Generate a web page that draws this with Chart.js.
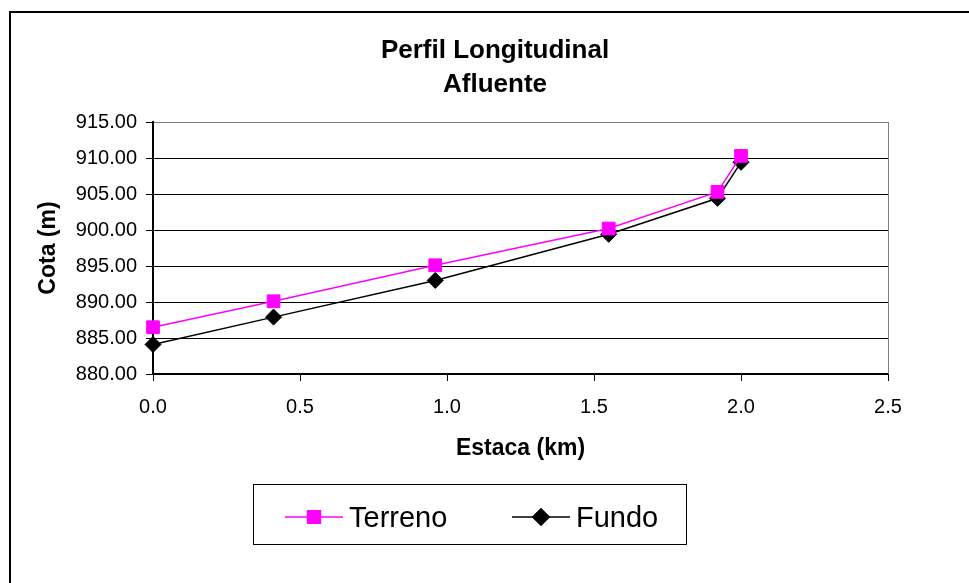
<!DOCTYPE html>
<html lang="pt">
<head>
    <meta charset="UTF-8">
    <title>Perfil Longitudinal - Afluente</title>
    <script src="https://cdn.jsdelivr.net/npm/chart.js"></script>
    <style>
        body { margin: 0; background: #fff; }
        canvas { display: block; }
    </style>
</head>
<body>
    <canvas id="perfilChart" width="969" height="583"></canvas>

    <script>
        // dados
        const estacas = [0.0, 0.41, 0.96, 1.55, 1.92, 2.00];
        const terreno = [886.5, 890.1, 895.1, 900.2, 905.3, 910.3];
        const fundo = [884.1, 887.9, 893.0, 899.4, 904.4, 909.4];
        const tituloLinhas = ['Perfil Longitudinal', 'Afluente'];
        const seriesNomes = ['Terreno', 'Fundo'];

        const FONTE = '"Liberation Sans", Arial, sans-serif';
        Chart.defaults.color = '#000';
        Chart.defaults.font.family = FONTE;

        function pontos(ys) {
            return estacas.map((x, i) => ({ x: x, y: ys[i] }));
        }

        // moldura, titulo e legenda no estilo Excel
        const molduraPlugin = {
            id: 'moldura',
            beforeDraw(chart) {
                const ctx = chart.ctx;
                ctx.save();
                ctx.fillStyle = '#fff';
                ctx.fillRect(0, 0, chart.width, chart.height);
                ctx.restore();
            },
            afterDraw(chart) {
                const ctx = chart.ctx;
                const area = chart.chartArea;
                ctx.save();

                // borda externa
                ctx.strokeStyle = '#000';
                ctx.lineWidth = 2;
                ctx.strokeRect(10, 12, 1000, 700);

                // borda direita da area de plotagem
                ctx.strokeStyle = '#808080';
                ctx.lineWidth = 1;
                ctx.beginPath();
                ctx.moveTo(area.right + 0.5, area.top);
                ctx.lineTo(area.right + 0.5, area.bottom);
                ctx.stroke();

                // titulo
                ctx.fillStyle = '#000';
                ctx.font = 'bold 26px ' + FONTE;
                ctx.textAlign = 'center';
                ctx.textBaseline = 'middle';
                tituloLinhas.forEach((t, i) => ctx.fillText(t, 495, 51 + i * 34));

                // legenda
                ctx.lineWidth = 1;
                ctx.strokeStyle = '#000';
                ctx.strokeRect(253.5, 484.5, 433, 60);
                const yLeg = 517;
                const xs = [285, 512];
                ctx.font = '29px ' + FONTE;
                ctx.textAlign = 'left';
                chart.data.datasets.forEach((ds, i) => {
                    const x0 = xs[i];
                    ctx.strokeStyle = ds.borderColor;
                    ctx.lineWidth = 1.5;
                    ctx.beginPath();
                    ctx.moveTo(x0, yLeg);
                    ctx.lineTo(x0 + 58, yLeg);
                    ctx.stroke();
                    Chart.helpers.drawPoint(ctx, {
                        pointStyle: ds.pointStyle,
                        radius: ds.pointRadius,
                        borderWidth: 1
                    }, x0 + 29, yLeg);
                    ctx.fillStyle = ds.pointBackgroundColor;
                    ctx.strokeStyle = ds.pointBorderColor;
                    ctx.fill();
                    ctx.stroke();
                    ctx.fillStyle = '#000';
                    ctx.fillText(ds.label, x0 + 64, yLeg + 2);
                });

                ctx.restore();
            }
        };

        const ctx = document.getElementById('perfilChart').getContext('2d');
        const perfilChart = new Chart(ctx, {
            type: 'line',
            data: {
                datasets: [{
                    label: seriesNomes[0],
                    data: pontos(terreno),
                    borderColor: '#ff00ff',
                    borderWidth: 1.5,
                    pointStyle: 'rect',
                    pointRadius: 9,
                    pointBackgroundColor: '#ff00ff',
                    pointBorderColor: '#ff00ff',
                    pointBorderWidth: 1,
                    tension: 0,
                    clip: false
                }, {
                    label: seriesNomes[1],
                    data: pontos(fundo),
                    borderColor: '#000',
                    borderWidth: 1.5,
                    pointStyle: 'rectRot',
                    pointRadius: 8,
                    pointBackgroundColor: '#000',
                    pointBorderColor: '#000',
                    pointBorderWidth: 1,
                    tension: 0,
                    clip: false
                }]
            },
            options: {
                responsive: false,
                animation: false,
                layout: {
                    padding: { top: 122, right: 81, bottom: 120, left: 0 }
                },
                plugins: {
                    legend: { display: false },
                    title: { display: false },
                    tooltip: { enabled: false }
                },
                scales: {
                    x: {
                        type: 'linear',
                        min: 0,
                        max: 2.5,
                        afterFit: (scale) => { scale.height = 89; },
                        ticks: {
                            stepSize: 0.5,
                            padding: 14,
                            font: { size: 20 },
                            callback: (v) => v.toFixed(1)
                        },
                        grid: {
                            drawOnChartArea: false,
                            drawTicks: true,
                            tickLength: 7,
                            tickColor: '#000'
                        },
                        border: { color: '#000', width: 2 },
                        title: {
                            display: true,
                            text: 'Estaca (km)',
                            font: { size: 23, weight: 'bold' },
                            padding: { top: 0, bottom: 1 }
                        }
                    },
                    y: {
                        min: 880,
                        max: 915,
                        afterFit: (scale) => { scale.width = 153; },
                        ticks: {
                            stepSize: 5,
                            padding: 9,
                            font: { size: 20 },
                            callback: (v) => v.toFixed(2)
                        },
                        grid: {
                            color: (c) => (c.tick && c.tick.value === 915 ? '#808080' : '#000'),
                            lineWidth: 1,
                            tickLength: 7,
                            tickColor: '#000'
                        },
                        border: { color: '#000', width: 2 },
                        title: {
                            display: true,
                            text: 'Cota (m)',
                            font: { size: 23, weight: 'bold' },
                            padding: { top: 35, bottom: 0 }
                        }
                    }
                }
            },
            plugins: [molduraPlugin]
        });
    </script>
</body>
</html>
